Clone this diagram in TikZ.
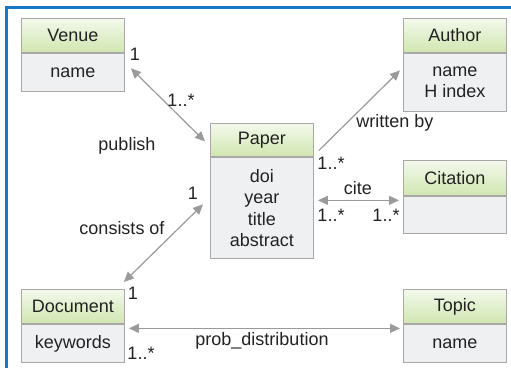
\documentclass[tikz,border=0pt]{standalone}
\usepackage{fontspec}
\setmainfont{Liberation Sans}
\usetikzlibrary{arrows.meta,calc}
\definecolor{frameblue}{HTML}{1478C8}
\definecolor{hdrtop}{HTML}{F3F9EC}
\definecolor{hdrbot}{HTML}{D0E6B0}
\definecolor{bodyfill}{HTML}{EFF0F2}
\definecolor{boxline}{HTML}{A8A8A8}
\definecolor{arrowgray}{HTML}{9A9A9A}
\definecolor{txt}{HTML}{222222}
\begin{document}
\begin{tikzpicture}[x=1pt,y=-1pt,
  every node/.style={font=\fontsize{18}{21.5}\selectfont, text=txt, inner sep=0pt},
  hdr/.style={draw=boxline, line width=0.9pt, top color=hdrtop, bottom color=hdrbot,
    minimum width=103pt, minimum height=34pt, anchor=north west},
  bodybox/.style={draw=boxline, line width=0.9pt, fill=bodyfill, align=center,
    minimum width=103pt, minimum height=38pt, anchor=north west},
  conn/.style={draw=arrowgray, line width=1.2pt},
  tip/.tip={Triangle[length=10pt,width=9pt]},
  lbl/.style={}]
\useasboundingbox (0,0) rectangle (511,367);
\fill[white] (0,0) rectangle (511,367);
\draw[frameblue, line width=2.5pt] (6.5,400) -- (6.5,7.5) -- (530,7.5);

% classes
\node[hdr] (venueh) at (21,18) {Venue};
\node[bodybox] (venueb) at (venueh.south west) {name};

\node[hdr] (authorh) at (403,18) {Author};
\node[bodybox, minimum height=58pt] (authorb) at (authorh.south west) {name\\H index};

\node[hdr, minimum height=33pt] (paperh) at (210,123) {Paper};
\node[bodybox, minimum height=101pt] (paperb) at (paperh.south west) {doi\\year\\title\\abstract};

\node[hdr, minimum height=35pt] (cith) at (403,160) {Citation};
\node[bodybox, minimum height=37pt] (citb) at (cith.south west) {};

\node[hdr] (doch) at (21,289) {Document};
\node[bodybox] (docb) at (doch.south west) {keywords};

\node[hdr] (topich) at (403,289) {Topic};
\node[bodybox] (topicb) at (topich.south west) {name};

% connectors
\draw[conn, tip-tip] ($(venueb.east)+(6,-4)$) -- ($(paperh.west)+(-5,1.5)$);
\draw[conn, -tip] ($(paperh.east)+(5,10.5)$) -- ($(authorb.west)+(-3,-12)$);
\draw[conn, tip-tip] ($(paperb.east)+(4,-7.5)$) -- ($(citb.west)+(-4,-14.5)$);
\draw[conn, tip-tip] ($(paperb.west)+(-7,-3.5)$) -- ($(doch.north east)+(-1,-7)$);
\draw[conn, tip-tip] ($(docb.east)+(4,-15)$) -- ($(topicb.west)+(-3,-15)$);

% labels
\node (l1) at (135,54) {1};
\node (l2) at (181,100) {1..*};
\node (l3) at (127,146) {publish};
\node (l4) at (395,123) {written by};
\node (l5) at (331,163) {1..*};
\node (l6) at (358,188) {cite};
\node (l7) at (331,215) {1..*};
\node (l8) at (386,215) {1..*};
\node (l9) at (193,193) {1};
\node (l10) at (122,228) {consists of};
\node (l11) at (133,293) {1};
\node (l12) at (141,353) {1..*};
\node (l13) at (262,341) {prob\_distribution};
\end{tikzpicture}
\end{document}
